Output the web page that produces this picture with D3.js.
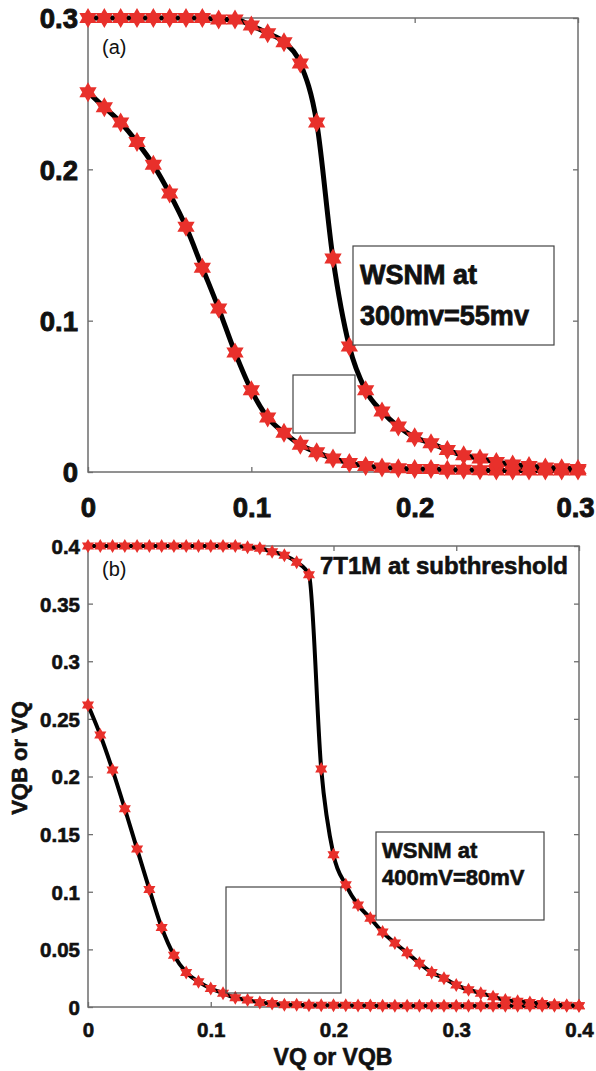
<!DOCTYPE html>
<html>
<head>
<meta charset="utf-8">
<script src="https://cdn.jsdelivr.net/npm/d3@7"></script>
<style>
  html, body { margin: 0; padding: 0; background: #fff; }
  svg text { font-family: "Liberation Sans", Arial, sans-serif; }
</style>
</head>
<body>
<svg id="chart" width="596" height="1071"></svg>
<script>
// ---------------- DATA ----------------
// Panel (a): 300 mV
const xA = [0.00,0.01,0.02,0.03,0.04,0.05,0.06,0.07,0.08,0.09,0.10,0.11,0.12,0.13,0.14,0.15,
            0.16,0.17,0.18,0.19,0.20,0.21,0.22,0.23,0.24,0.25,0.26,0.27,0.28,0.29,0.30];
const curveA1 = [0.300,0.300,0.300,0.300,0.300,0.300,0.300,0.300,0.299,0.299,0.295,0.290,0.284,0.270,0.231,0.141,
                 0.083,0.054,0.040,0.030,0.023,0.019,0.0145,0.011,0.009,0.0066,0.005,0.004,0.003,0.0025,0.002];
const curveA2 = [0.251,0.241,0.231,0.218,0.203,0.184,0.162,0.135,0.108,0.079,0.054,0.036,0.026,0.018,0.013,0.009,
                 0.006,0.004,0.003,0.0025,0.002,0.002,0.0015,0.0015,0.0012,0.001,0.001,0.001,0.001,0.001,0.001];
const xTicksA = [0, 0.1, 0.2, 0.3];
const xTickLabelsA = ["0", "0.1", "0.2", "0.3"];
const yTicksA = [0, 0.1, 0.2, 0.3];
const yTickLabelsA = ["0", "0.1", "0.2", "0.3"];

// Panel (b): 400 mV, 7T1M at subthreshold
const xB = [0.00,0.01,0.02,0.03,0.04,0.05,0.06,0.07,0.08,0.09,0.10,0.11,0.12,0.13,0.14,0.15,0.16,0.17,0.18,0.19,0.20,
            0.21,0.22,0.23,0.24,0.25,0.26,0.27,0.28,0.29,0.30,0.31,0.32,0.33,0.34,0.35,0.36,0.37,0.38,0.39,0.40];
const curveB1 = [0.400,0.400,0.400,0.400,0.400,0.400,0.400,0.400,0.400,0.400,0.400,0.400,0.400,0.399,0.398,0.395,0.392,0.386,0.375,0.2065,0.132,
                 0.106,0.0885,0.077,0.065,0.0555,0.047,0.038,0.030,0.025,0.019,0.015,0.012,0.009,0.006,0.005,0.004,0.003,0.002,0.0015,0.001];
const curveB2 = [0.262,0.236,0.2056,0.172,0.137,0.102,0.069,0.045,0.030,0.022,0.016,0.012,0.008,0.006,0.004,0.003,0.002,0.002,0.0015,0.0015,0.0015,
                 0.0015,0.0012,0.0012,0.001,0.001,0.001,0.001,0.001,0.001,0.001,0.001,0.001,0.001,0.001,0.001,0.001,0.001,0.001,0.001,0.001];
const xTicksB = [0, 0.1, 0.2, 0.3, 0.4];
const xTickLabelsB = ["0", "0.1", "0.2", "0.3", "0.4"];
const yTicksB = [0, 0.05, 0.1, 0.15, 0.2, 0.25, 0.3, 0.35, 0.4];
const yTickLabelsB = ["0", "0.05", "0.1", "0.15", "0.2", "0.25", "0.3", "0.35", "0.4"];

const xTitle = "VQ or VQB";
const yTitle = "VQB or VQ";

// ---------------- DRAWING ----------------
const svg = d3.select("#chart");
const RED = "#e8302b";
const AXIS = "#6e6e6e";
const INK = "#111";

function hexagram(r) {
  const pts = [];
  for (let i = 0; i < 12; i++) {
    const a = -Math.PI / 2 + i * Math.PI / 6;
    const rr = i % 2 === 0 ? r : r / Math.sqrt(3);
    pts.push([rr * Math.cos(a), rr * Math.sin(a)]);
  }
  return "M" + pts.map(p => p[0].toFixed(2) + "," + p[1].toFixed(2)).join("L") + "Z";
}

function heavy(sel, w) {
  return sel.attr("fill", INK).attr("font-weight", "bold")
    .attr("stroke", INK).attr("stroke-width", w).attr("paint-order", "stroke");
}

function panel(cfg) {
  const g = svg.append("g");
  const x = d3.scaleLinear().domain(cfg.xDomain).range([cfg.left, cfg.right]);
  const y = d3.scaleLinear().domain(cfg.yDomain).range([cfg.bottom, cfg.top]);

  g.append("rect")
    .attr("x", cfg.left).attr("y", cfg.top)
    .attr("width", cfg.right - cfg.left).attr("height", cfg.bottom - cfg.top)
    .attr("fill", "none").attr("stroke", AXIS).attr("stroke-width", 1.5);

  const fmtX = d => cfg.xLabels[cfg.xTicks.indexOf(d)];
  const fmtY = d => cfg.yLabels[cfg.yTicks.indexOf(d)];

  const ax = g.append("g").attr("transform", `translate(0,${cfg.bottom})`)
    .call(d3.axisBottom(x).tickValues(cfg.xTicks).tickFormat(fmtX)
      .tickSizeInner(-5).tickSizeOuter(0).tickPadding(cfg.xPad));
  const axTop = g.append("g").attr("transform", `translate(0,${cfg.top})`)
    .call(d3.axisTop(x).tickValues(cfg.xTicks).tickFormat("")
      .tickSizeInner(-5).tickSizeOuter(0));
  const ay = g.append("g").attr("transform", `translate(${cfg.left},0)`)
    .call(d3.axisLeft(y).tickValues(cfg.yTicks).tickFormat(fmtY)
      .tickSizeInner(-5).tickSizeOuter(0).tickPadding(cfg.yPad));
  const ayR = g.append("g").attr("transform", `translate(${cfg.right},0)`)
    .call(d3.axisRight(y).tickValues(cfg.yTicks).tickFormat("")
      .tickSizeInner(-5).tickSizeOuter(0));

  [ax, axTop, ay, ayR].forEach(a => {
    a.select(".domain").remove();
    a.selectAll(".tick line").attr("stroke", AXIS).attr("stroke-width", 1.3);
    heavy(a.selectAll(".tick text"), cfg.tickStroke)
      .attr("font-size", cfg.tickFont)
      .attr("font-family", "Liberation Sans, Arial, sans-serif");
  });
  ay.selectAll(".tick text").attr("dy", "0.36em");
  // keep the last x label inside the page
  ax.selectAll(".tick text").filter((d, i, n) => i === n.length - 1).attr("dx", cfg.lastDx);

  const line = d3.line().x(d => x(d[0])).y(d => y(d[1])).curve(d3.curveMonotoneX);
  const star = hexagram(cfg.starR);

  cfg.series.forEach(vals => {
    const pts = cfg.xs.map((xv, i) => [xv, vals[i]]);
    g.append("path").datum(pts)
      .attr("d", line).attr("fill", "none")
      .attr("stroke", "#000").attr("stroke-width", cfg.lineW)
      .attr("stroke-linejoin", "round").attr("stroke-linecap", "round");
    g.append("g").selectAll("path").data(pts).join("path")
      .attr("d", star)
      .attr("transform", d => `translate(${x(d[0])},${y(d[1])})`)
      .attr("fill", RED);
  });
  return { g, x, y };
}

// Panel (a)
panel({
  left: 88, right: 578, top: 18, bottom: 472,
  xDomain: [0, 0.3], yDomain: [0, 0.3],
  xTicks: xTicksA, xLabels: xTickLabelsA, yTicks: yTicksA, yLabels: yTickLabelsA,
  xs: xA, series: [curveA2, curveA1],
  tickFont: 27.5, tickStroke: 0.9, xPad: 25, yPad: 10, starR: 10, lineW: 5, lastDx: -3
});
// Panel (b)
panel({
  left: 88, right: 579, top: 546, bottom: 1007,
  xDomain: [0, 0.4], yDomain: [0, 0.4],
  xTicks: xTicksB, xLabels: xTickLabelsB, yTicks: yTicksB, yLabels: yTickLabelsB,
  xs: xB, series: [curveB2, curveB1],
  tickFont: 20.5, tickStroke: 0.6, xPad: 15, yPad: 8, starR: 7, lineW: 4, lastDx: 0
});

// annotations panel (a)
svg.append("text").attr("x", 102).attr("y", 54).attr("font-size", 20).attr("fill", INK).text("(a)");
svg.append("rect").attr("x", 293).attr("y", 375).attr("width", 62).attr("height", 58)
  .attr("fill", "#fff").attr("stroke", "#444").attr("stroke-width", 1.2);
svg.append("rect").attr("x", 353).attr("y", 246).attr("width", 201).attr("height", 99)
  .attr("fill", "#fff").attr("stroke", "#444").attr("stroke-width", 1.2);
heavy(svg.append("text"), 0.8).attr("x", 360).attr("y", 284).attr("font-size", 27).text("WSNM at");
heavy(svg.append("text"), 0.8).attr("x", 360).attr("y", 325).attr("font-size", 27).text("300mv=55mv");

// annotations panel (b)
svg.append("text").attr("x", 102).attr("y", 576).attr("font-size", 20).attr("fill", INK).text("(b)");
heavy(svg.append("text"), 0.6).attr("x", 320).attr("y", 574).attr("font-size", 24).text("7T1M at subthreshold");
svg.append("rect").attr("x", 226).attr("y", 887).attr("width", 115).attr("height", 106)
  .attr("fill", "none").attr("stroke", "#444").attr("stroke-width", 1.2);
svg.append("rect").attr("x", 376).attr("y", 832).attr("width", 168).attr("height", 88)
  .attr("fill", "#fff").attr("stroke", "#444").attr("stroke-width", 1.2);
heavy(svg.append("text"), 0.6).attr("x", 382).attr("y", 858).attr("font-size", 22).text("WSNM at");
heavy(svg.append("text"), 0.6).attr("x", 382).attr("y", 885).attr("font-size", 22).text("400mV=80mV");

// axis titles
heavy(svg.append("text"), 0.6).attr("x", 333).attr("y", 1065).attr("text-anchor", "middle")
  .attr("font-size", 23).text(xTitle);
heavy(svg.append("text"), 0.6).attr("transform", "translate(27,758) rotate(-90)").attr("text-anchor", "middle")
  .attr("font-size", 22).text(yTitle);
</script>
</body>
</html>
